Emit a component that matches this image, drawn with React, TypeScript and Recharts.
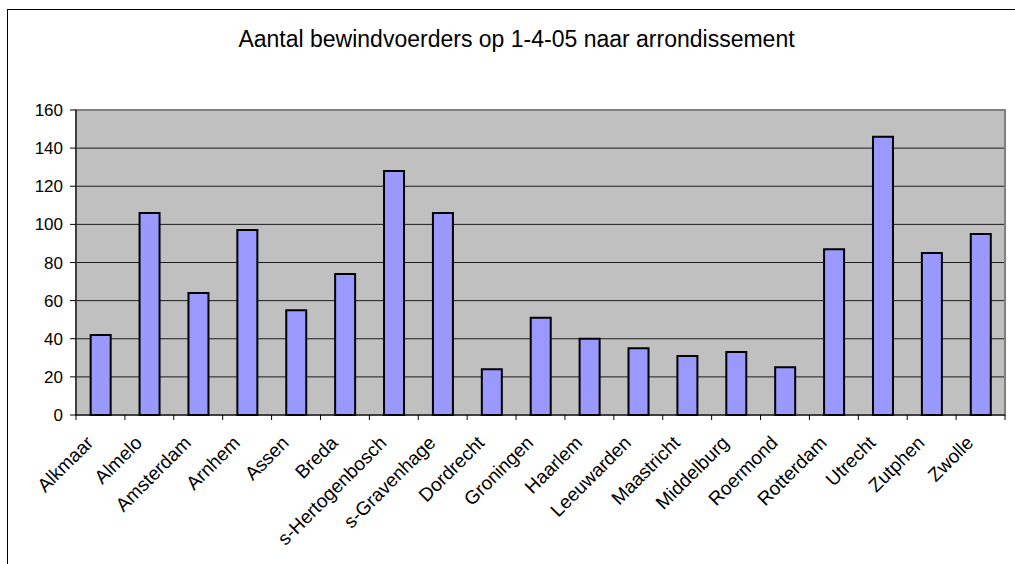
import React from 'react';
import { BarChart, Bar, XAxis, YAxis, CartesianGrid, ReferenceArea } from 'recharts';

const categories = ['Alkmaar','Almelo','Amsterdam','Arnhem','Assen','Breda','s-Hertogenbosch','s-Gravenhage','Dordrecht','Groningen','Haarlem','Leeuwarden','Maastricht','Middelburg','Roermond','Rotterdam','Utrecht','Zutphen','Zwolle'];
const values = [42,106,64,97,55,74,128,106,24,51,40,35,31,33,25,87,146,85,95];
const yTicks = [0,20,40,60,80,100,120,140,160];
const title = 'Aantal bewindvoerders op 1-4-05 naar arrondissement';

const data = categories.map((name, i) => ({ name, value: values[i] }));

const W = 1015;
const H = 564;
const margin = { top: 110, right: 10, bottom: 49, left: 16 };
const yAxisWidth = 60;
const plotWidth = W - margin.left - margin.right - yAxisWidth;
const band = plotWidth / categories.length;
const FONT = '"Liberation Sans", Arial, sans-serif';

const XTick = (props: any) => {
  const { x, y, payload, index } = props;
  const left = x - band / 2;
  const ax = x - 6;
  const ay = y + 29;
  return (
    <g>
      <line x1={left} y1={y} x2={left} y2={y + 5} stroke="#000" strokeWidth={1} />
      {index === categories.length - 1 ? (
        <line x1={x + band / 2} y1={y} x2={x + band / 2} y2={y + 5} stroke="#000" strokeWidth={1} />
      ) : null}
      <text
        x={ax}
        y={ay}
        textAnchor="end"
        fontSize={19}
        fontFamily={FONT}
        fill="#000"
        transform={`rotate(-45 ${ax} ${ay})`}
      >
        {payload.value}
      </text>
    </g>
  );
};

export default function App() {
  return (
    <div style={{ position: 'absolute', left: 0, top: 0, width: W, height: H, background: '#fff', fontFamily: FONT }}>
      <div style={{ position: 'absolute', left: 7, top: 9, width: W, height: H, borderLeft: '1.5px solid #000', borderTop: '1.5px solid #000' }} />
      <div style={{ position: 'absolute', left: 0, top: 26, width: 1033, textAlign: 'center', fontSize: 23, color: '#000', whiteSpace: 'nowrap' }}>{title}</div>
      <div style={{ position: 'absolute', left: 0, top: 0 }}>
        <BarChart width={W} height={H} data={data} margin={margin} barCategoryGap="30%">
          <CartesianGrid vertical={false} fill="#C0C0C0" stroke="#000" strokeOpacity={0.85} />
          <ReferenceArea y1={0} y2={160} fill="none" stroke="#808080" strokeWidth={2} ifOverflow="visible" />
          <YAxis
            domain={[0, 160]}
            ticks={yTicks}
            width={yAxisWidth}
            interval={0}
            axisLine={{ stroke: '#000' }}
            tickLine={{ stroke: '#000' }}
            tickSize={6}
            tickMargin={7}
            tick={{ fill: '#000', fontSize: 17, fontFamily: FONT }}
          />
          <XAxis
            dataKey="name"
            interval={0}
            height={100}
            axisLine={{ stroke: '#000' }}
            tickLine={false}
            tickSize={0}
            tickMargin={0}
            tick={<XTick />}
          />
          <Bar dataKey="value" fill="#9999FF" stroke="#000" strokeWidth={2} isAnimationActive={false} />
        </BarChart>
      </div>
    </div>
  );
}
